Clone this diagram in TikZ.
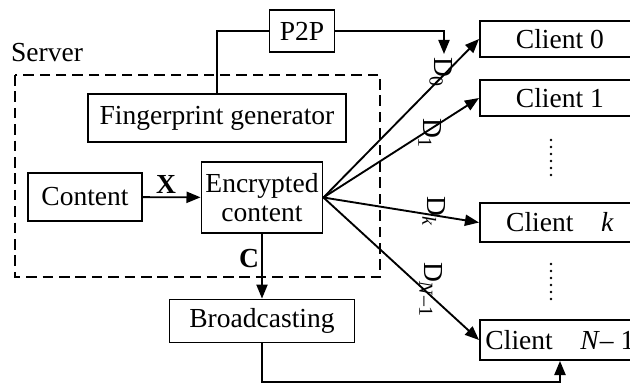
\documentclass[tikz,border=0pt]{standalone}
\usepackage{fontspec}
\setmainfont{Liberation Serif}
\usetikzlibrary{arrows.meta, positioning}

\newcommand{\dsub}[1]{D\raisebox{-0.4ex}{\fontsize{17}{17}\selectfont #1}}

\begin{document}
\begin{tikzpicture}[x=0.03cm, y=-0.03cm, line width=1.6pt,
                    >={Triangle[length=12pt, width=9.5pt]},
                    font=\fontsize{23.5}{25}\selectfont,
                    main node/.style= {rectangle,
                      draw,
                      inner sep=0pt,
                      align=center},
                    client node/.style= {main node,
                      anchor=west,
                      minimum width=4.8cm}]
  \clip (0,0) rectangle (630,384);

  \node (0) at (47,53) {Server};
  \draw[dash pattern=on 9pt off 5pt] (15,75) rectangle (380,277);

  \node[main node, minimum width=1.95cm, minimum height=1.26cm] (1) at (302,31) {P2P};
  \node[main node, minimum width=7.74cm, minimum height=1.44cm] (2) at (217,118) {Fingerprint generator};
  \node[main node, minimum width=3.42cm, minimum height=1.44cm] (3) at (85,197) {Content};
  \node[main node, minimum width=3.63cm, minimum height=2.13cm] (4) at (262,197.5) {Encrypted\\content};
  \node[main node, minimum width=5.55cm, minimum height=1.29cm] (5) at (262,321) {Broadcasting};

  \node[client node, minimum height=1.08cm] (6) at (479,39) {Client 0};
  \node[client node, minimum height=1.08cm] (7) at (479,98) {Client 1};
  \node[client node, minimum height=1.17cm] (8) at (479,222.5) {Client\quad\textit{k}};
  \node[client node, minimum height=1.20cm] (9) at (479,340) {Client\quad\textit{N}– 1};

  % dots between the clients
  \foreach \y in {140,147,...,175} \fill (551,\y) circle (1.2pt);
  \foreach \y in {264,271,...,299} \fill (551,\y) circle (1.2pt);

  % labels of the arrows, read from the top down
  \node[rotate=-90] (10) at (441,72) {\dsub{0}};
  \node[rotate=-90] (11) at (430,133) {\dsub{1}};
  \node[rotate=-90] (12) at (434,211) {\dsub{\textit{k}}};
  \node[rotate=-90] (13) at (431,289) {\dsub{\textit{N}–1}};
  \node (14) at (166,184) {\textbf{X}};
  \node (15) at (249,259) {\textbf{C}};

  \coordinate (16) at (444,54);
  \coordinate (17) at (560,382);

  \draw (2.north) |- (1.west);
  \draw[->] (1.east) -| (16);
  \draw[->] (3) -- (4);
  \draw[->] (4) -- (5);
  \draw[->] (5.south) |- (17) -- (17 |- 9.south);

  \path[->]
    (4.east) edge (6.west)
             edge (7.west)
             edge (8.west)
             edge (9.west);
\end{tikzpicture}
\end{document}
